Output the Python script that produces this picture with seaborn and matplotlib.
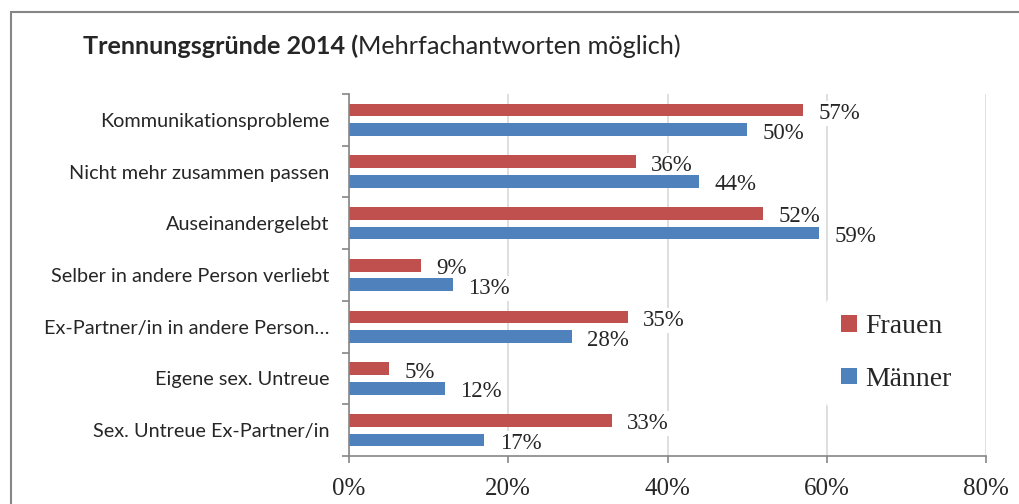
import numpy as np
import pandas as pd
import seaborn as sns
import matplotlib.pyplot as plt
from matplotlib.patches import Rectangle
from matplotlib.ticker import FuncFormatter, FixedLocator

categories = [
    "Kommunikationsprobleme",
    "Nicht mehr zusammen passen",
    "Auseinandergelebt",
    "Selber in andere Person verliebt",
    "Ex-Partner/in in andere Person…",
    "Eigene sex. Untreue",
    "Sex. Untreue Ex-Partner/in",
]
frauen = [57, 36, 52, 9, 35, 5, 33]
maenner = [50, 44, 59, 13, 28, 12, 17]
series = ["Frauen", "Männer"]
colors = ["#C0504D", "#4F81BD"]
x_ticks = [0, 20, 40, 60, 80]

df = pd.DataFrame({
    "grund": categories * 2,
    "wert": frauen + maenner,
    "geschlecht": [series[0]] * len(categories) + [series[1]] * len(categories),
})

sns.set_style("white")
plt.rcParams["font.family"] = ["Lato", "DejaVu Sans"]

fig = plt.figure(figsize=(10.19, 5.04), dpi=100)
ax = fig.add_axes([349 / 1019, 48 / 504, 637 / 1019, 362 / 504])

sns.barplot(
    data=df, x="wert", y="grund", hue="geschlecht", orient="h",
    palette=colors, width=0.76, gap=0.355, ax=ax, legend=False,
    saturation=1, edgecolor="none",
)

ax.set_xlim(0, 80)
ax.set_ylim(len(categories) - 0.5, -0.5)
ax.set_xlabel("")
ax.set_ylabel("")

# gridlines
ax.xaxis.set_major_locator(FixedLocator(x_ticks))
ax.grid(axis="x", color="#D9D9D9", linewidth=1.2)
ax.set_axisbelow(True)

serif = ["Liberation Serif", "DejaVu Serif"]
ax.xaxis.set_major_formatter(FuncFormatter(lambda v, p: f"{v:.0f}%"))
for lbl in ax.get_xticklabels():
    lbl.set_family(serif)
ax.tick_params(axis="x", length=5, width=1.2, color="#868686", pad=11,
               labelsize=18, direction="out", bottom=True)

ax.set_yticks(range(len(categories)))
ax.set_yticklabels(categories, fontsize=14.3)
ax.yaxis.set_minor_locator(FixedLocator(np.arange(-0.5, len(categories), 1.0)))
ax.tick_params(axis="y", which="major", length=0, pad=14)
ax.tick_params(axis="y", which="minor", length=5, width=1.2, color="#868686",
               direction="out", left=True)

for side in ["top", "right"]:
    ax.spines[side].set_visible(False)
for side in ["left", "bottom"]:
    ax.spines[side].set_color("#868686")
    ax.spines[side].set_linewidth(1.2)

# data labels, slightly below the bar centre like the original;
# white box hides the gridlines but stays under the bars
for cont in ax.containers:
    vals = [b.get_width() for b in cont]
    anns = ax.bar_label(cont, labels=[f"{v:.0f}%" for v in vals], padding=11,
                        fontsize=16.5, family=serif,
                        bbox=dict(facecolor="white", edgecolor="none", pad=1.5))
    for a in anns:
        a.xyann = (11, -2.5)
        a.set_zorder(0.8)

# legend
handles = [Rectangle((0, 0), 1, 1, facecolor=c, edgecolor="none") for c in colors]
leg = fig.legend(handles, series, loc="center left",
                 bbox_to_anchor=(826 / 1019, 1 - 353 / 504),
                 prop={"family": serif, "size": 20}, frameon=True,
                 facecolor="white", edgecolor="none", framealpha=1,
                 handlelength=0.55, handleheight=0.55, handletextpad=0.3,
                 labelspacing=1.0, borderpad=0.55, borderaxespad=0)

# title: bold part + normal part
t1 = fig.text(83 / 1019, 1 - 46 / 504, "Trennungsgründe 2014 (", fontsize=18.2,
              fontweight="bold", va="center", ha="left")
fig.canvas.draw()
bb = t1.get_window_extent()
fig.text(bb.x1 / 1019, 1 - 46 / 504, "Mehrfachantworten möglich)", fontsize=18.2,
         va="center", ha="left")

# chart border
fig.patches.append(Rectangle((11 / 1019, -0.1), 1.2, 1 - 12 / 504 + 0.1,
                             transform=fig.transFigure, fill=False,
                             edgecolor="#868686", linewidth=1.5))

fig.savefig("out.png", dpi=100)
